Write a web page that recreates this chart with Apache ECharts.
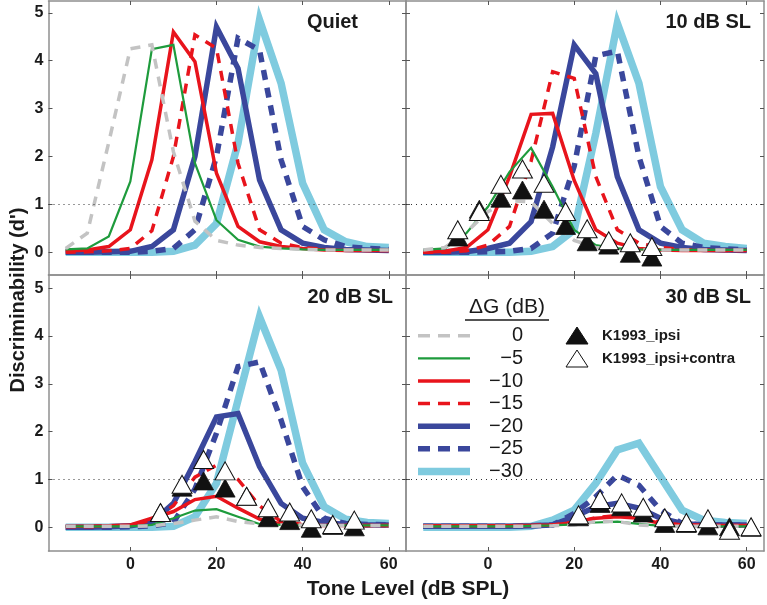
<!DOCTYPE html>
<html>
<head>
<meta charset="utf-8">
<script src="https://cdn.jsdelivr.net/npm/echarts@6.0.0/dist/echarts.min.js"></script>
<style>
html,body{margin:0;padding:0;background:#fff;}
#chart{width:767px;height:605px;}
</style>
</head>
<body>
<div id="chart"></div>
<script>
// ---------------- data ----------------
const levels = [-15,-10,-5,0,5,10,15,20,25,30,35,40,45,50,55,60];
const xTicks = [0,20,40,60];
const yTicks = [0,1,2,3,4,5];
const panelTitles = ['Quiet','10 dB SL','20 dB SL','30 dB SL'];
const gainLabels = ['0','\u22125','\u221210','\u221215','\u221220','\u221225','\u221230'];

// Quiet
const quiet_0  = [0.08,0.40,2.30,4.25,4.33,2.10,0.65,0.25,0.15,0.10,0.08,0.06,0.05,0.05,0.05,0.05];
const quiet_5  = [0.06,0.08,0.33,1.48,4.24,4.33,1.86,0.67,0.26,0.12,0.08,0.06,0.05,0.05,0.05,0.05];
const quiet_10 = [0.02,0.05,0.12,0.47,1.93,4.60,3.98,1.65,0.54,0.22,0.12,0.08,0.05,0.04,0.04,0.04];
const quiet_15 = [0.00,0.01,0.03,0.08,0.45,2.00,4.54,4.26,1.86,0.47,0.19,0.10,0.06,0.05,0.04,0.04];
const quiet_20 = [0.00,0.00,0.01,0.02,0.12,0.47,2.00,4.70,3.84,1.51,0.47,0.19,0.10,0.06,0.05,0.04];
const quiet_25 = [0.00,0.00,0.00,0.00,0.02,0.08,0.47,2.00,4.47,4.22,1.93,0.54,0.26,0.12,0.08,0.06];
const quiet_30 = [0.00,0.00,0.00,0.00,0.00,0.02,0.15,0.60,2.28,4.85,3.53,1.44,0.47,0.22,0.12,0.10];
// 10 dB SL
const sl10_0  = [0.05,0.10,0.42,0.85,1.08,1.05,0.60,0.25,0.10,0.06,0.05,0.05,0.05,0.05,0.05,0.05];
const sl10_5  = [0.05,0.08,0.40,0.95,1.68,2.18,1.37,0.47,0.15,0.08,0.06,0.05,0.05,0.05,0.05,0.05];
const sl10_10 = [0.00,0.02,0.10,0.47,1.58,2.88,2.90,1.50,0.47,0.19,0.08,0.05,0.04,0.04,0.04,0.04];
const sl10_15 = [0.00,0.00,0.03,0.15,0.54,1.90,3.77,3.63,1.58,0.47,0.19,0.10,0.06,0.05,0.04,0.04];
const sl10_20 = [0.00,0.00,0.01,0.08,0.19,0.64,2.20,4.33,3.73,1.58,0.47,0.19,0.10,0.06,0.05,0.04];
const sl10_25 = [0.00,0.00,0.00,0.01,0.02,0.08,0.40,1.80,4.10,4.20,2.00,0.54,0.19,0.10,0.07,0.05];
const sl10_30 = [0.00,0.00,0.00,0.00,0.00,0.02,0.12,0.47,2.48,4.78,3.53,1.37,0.47,0.19,0.12,0.08];
// 20 dB SL
const sl20_0  = [0.02,0.02,0.02,0.02,0.03,0.08,0.15,0.22,0.12,0.07,0.05,0.05,0.04,0.04,0.04,0.04];
const sl20_5  = [0.02,0.02,0.02,0.02,0.05,0.19,0.35,0.38,0.22,0.07,0.05,0.04,0.04,0.04,0.04,0.04];
const sl20_10 = [0.02,0.02,0.03,0.05,0.19,0.33,0.58,0.65,0.40,0.17,0.07,0.05,0.04,0.04,0.04,0.04];
const sl20_15 = [0.01,0.01,0.02,0.04,0.15,0.45,1.05,1.30,1.00,0.45,0.12,0.06,0.05,0.04,0.04,0.04];
const sl20_20 = [0.00,0.00,0.01,0.03,0.10,0.50,1.37,2.31,2.38,1.27,0.50,0.19,0.10,0.06,0.05,0.05];
const sl20_25 = [0.00,0.00,0.00,0.01,0.03,0.10,0.80,1.97,3.36,3.46,2.24,0.85,0.19,0.08,0.06,0.05];
const sl20_30 = [0.00,0.00,0.00,0.00,0.00,0.02,0.22,0.92,2.66,4.40,3.29,1.34,0.43,0.17,0.10,0.08];
// 30 dB SL
const sl30_0  = [0.02,0.02,0.02,0.02,0.02,0.02,0.03,0.05,0.12,0.12,0.05,0.02,0.02,0.02,0.02,0.02];
const sl30_5  = [0.02,0.02,0.02,0.02,0.02,0.03,0.04,0.06,0.10,0.12,0.07,0.03,0.02,0.02,0.02,0.02];
const sl30_10 = [0.03,0.03,0.03,0.03,0.03,0.04,0.05,0.10,0.19,0.22,0.19,0.08,0.05,0.04,0.04,0.04];
const sl30_15 = [0.03,0.03,0.03,0.03,0.03,0.04,0.05,0.10,0.20,0.25,0.20,0.10,0.05,0.04,0.04,0.04];
const sl30_20 = [0.02,0.02,0.02,0.02,0.02,0.03,0.05,0.22,0.43,0.50,0.40,0.19,0.08,0.05,0.05,0.05];
const sl30_25 = [0.02,0.02,0.02,0.02,0.02,0.03,0.05,0.29,0.64,1.09,0.88,0.36,0.08,0.05,0.05,0.05];
const sl30_30 = [0.00,0.00,0.00,0.00,0.00,0.02,0.15,0.36,0.92,1.62,1.76,1.06,0.36,0.15,0.10,0.08];

// K1993 data (tone level, d')
const k10_x      = [-7,-2,3,8,13,18,23,28,33,38];
const k10_ipsi   = [0.32,0.90,1.13,1.30,0.90,0.56,0.22,0.15,-0.02,-0.10];
const k10_contra = [0.47,0.85,1.42,1.74,1.44,0.85,0.49,0.24,0.20,0.12];
const k20_x      = [7,12,17,22,27,32,37,42,47,52];
const k20_ipsi   = [0.31,0.84,0.97,0.82,0.65,0.20,0.14,-0.02,0.04,0.01];
const k20_contra = [0.31,0.90,1.42,1.18,0.65,0.41,0.32,0.18,0.06,0.15];
const k30_x      = [21,26,31,36,41,46,51,56,61];
const k30_ipsi   = [0.22,0.50,0.43,0.30,0.08,0.08,0.03,0.01,0.00];
const k30_contra = [0.26,0.58,0.51,0.42,0.20,0.10,0.18,-0.06,0.01];

const panelCurves = [
  [quiet_0,quiet_5,quiet_10,quiet_15,quiet_20,quiet_25,quiet_30],
  [sl10_0,sl10_5,sl10_10,sl10_15,sl10_20,sl10_25,sl10_30],
  [sl20_0,sl20_5,sl20_10,sl20_15,sl20_20,sl20_25,sl20_30],
  [sl30_0,sl30_5,sl30_10,sl30_15,sl30_20,sl30_25,sl30_30]
];
const panelK = [null,[k10_x,k10_ipsi,k10_contra],[k20_x,k20_ipsi,k20_contra],[k30_x,k30_ipsi,k30_contra]];

// ---------------- styles ----------------
const curveStyles = [
  {color:'#c3c3c3', width:3.5, type:[10,8]},
  {color:'#1e9b3c', width:2.2, type:'solid'},
  {color:'#e8141c', width:3.5, type:'solid'},
  {color:'#e8141c', width:3.5, type:[10,8]},
  {color:'#3a479c', width:5.5, type:'solid'},
  {color:'#3a479c', width:5.5, type:[10,8]},
  {color:'#7fcbdf', width:7.5, type:'solid'}
];
const F = "'Liberation Sans', Arial, Helvetica, sans-serif";
const frameColor = '#8f8f8f';

const grids = [
  {left:48.5, top:1, width:357.5, height:274},
  {left:406, top:1, width:358, height:274},
  {left:48.5, top:275, width:357.5, height:276},
  {left:406, top:275, width:358, height:276}
];
const yRanges = [[-0.474,5.246],[-0.474,5.246],[-0.496,5.278],[-0.496,5.278]];

const xAxes = [], yAxes = [], series = [];
grids.forEach((g,i)=>{
  const common = {
    type:'value', gridIndex:i, min:-19, max:64,
    axisLine:{show:true, onZero:false, lineStyle:{color:frameColor, width:1.5}},
    splitLine:{show:false},
    axisTick:{show:true, inside:true, length:4, customValues:xTicks, lineStyle:{color:'#555', width:1}}
  };
  xAxes.push(Object.assign({}, common, {position:'bottom',
    axisLabel:{show:i>=2, customValues:xTicks, margin:6, color:'#1a1a1a', fontFamily:F, fontWeight:'bold', fontSize:16}}));
  xAxes.push(Object.assign({}, common, {position:'top', axisLabel:{show:false}}));
  const ycommon = {
    type:'value', gridIndex:i, min:yRanges[i][0], max:yRanges[i][1],
    axisLine:{show:true, onZero:false, lineStyle:{color:frameColor, width:1.5}},
    splitLine:{show:false},
    axisTick:{show:true, inside:true, length:4, customValues:yTicks, lineStyle:{color:'#555', width:1}}
  };
  yAxes.push(Object.assign({}, ycommon, {position:'left',
    axisLabel:{show:i%2===0, customValues:yTicks, margin:5, color:'#1a1a1a', fontFamily:F, fontWeight:'bold', fontSize:16}}));
  yAxes.push(Object.assign({}, ycommon, {position:'right', axisLabel:{show:false}}));

  const curves = panelCurves[i];
  for (let k = 6; k >= 0; k--) {
    const st = curveStyles[k];
    const s = {
      type:'line', name:gainLabels[k], xAxisIndex:2*i, yAxisIndex:2*i,
      data: levels.map((x,j)=>[x, curves[k][j]]),
      symbol:'none', showSymbol:false, smooth:false, silent:true,
      lineStyle:{color:st.color, width:st.width, type:st.type, cap:'butt', join:'miter'},
      z:2
    };
    if (k === 6) {
      s.markLine = {silent:true, symbol:['none','none'], label:{show:false},
        lineStyle:{color:'#333', width:1, type:[1,4]}, data:[{yAxis:1}], animation:false};
    }
    series.push(s);
  }
  const K = panelK[i];
  if (K) {
    series.push({type:'scatter', name:'K1993_ipsi', xAxisIndex:2*i, yAxisIndex:2*i,
      data:K[0].map((x,j)=>[x,K[1][j]]), symbol:'triangle', symbolSize:[20,18],
      itemStyle:{color:'#111', borderColor:'#111', borderWidth:0.8, opacity:1}, z:5, silent:true});
    series.push({type:'scatter', name:'K1993_ipsi+contra', xAxisIndex:2*i, yAxisIndex:2*i,
      data:K[0].map((x,j)=>[x,K[2][j]]), symbol:'triangle', symbolSize:[20,18],
      itemStyle:{color:'#fff', borderColor:'#111', borderWidth:1, opacity:1}, z:6, silent:true});
  }
});

// ---------------- graphic texts & legend ----------------
const graphic = [];
const titlePos = [[358,22],[751,22],[393,297],[751,297]];
panelTitles.forEach((t,i)=>{
  graphic.push({type:'text', x:titlePos[i][0], y:titlePos[i][1], z:20,
    style:{text:t, fill:'#1a1a1a', font:"bold 20px "+F, textAlign:'right', textVerticalAlign:'middle'}});
});
graphic.push({type:'text', x:408, y:589, z:20,
  style:{text:'Tone Level (dB SPL)', fill:'#1a1a1a', font:"bold 21px "+F, textAlign:'center', textVerticalAlign:'middle'}});
graphic.push({type:'text', x:18, y:300, rotation:Math.PI/2, z:20,
  style:{text:"Discriminability (d')", fill:'#1a1a1a', font:"bold 20px "+F, textAlign:'center', textVerticalAlign:'middle'}});

// legend
graphic.push({type:'text', x:507, y:307, z:20,
  style:{text:'\u0394G (dB)', fill:'#1a1a1a', font:"21px "+F, textAlign:'center', textVerticalAlign:'middle'}});
graphic.push({type:'line', z:20, shape:{x1:465, y1:320, x2:549, y2:320}, style:{stroke:'#1a1a1a', lineWidth:1.5}});
const rowY = [335.7,358.3,381,403.6,426.2,448.8,471.4];
curveStyles.forEach((st,k)=>{
  graphic.push({type:'line', z:20, shape:{x1:418, y1:rowY[k], x2:470, y2:rowY[k]},
    style:{stroke:st.color, lineWidth:st.width, lineDash: st.type==='solid'?null:[12,8], lineCap:'butt'}});
  graphic.push({type:'text', x:523, y:rowY[k], z:20,
    style:{text:gainLabels[k], fill:'#1a1a1a', font:"20px "+F, textAlign:'right', textVerticalAlign:'middle'}});
});
graphic.push({type:'polygon', z:20, shape:{points:[[566,344],[588,344],[577,327]]}, style:{fill:'#111', stroke:'#111', lineWidth:1}});
graphic.push({type:'polygon', z:20, shape:{points:[[566,367],[588,367],[577,350]]}, style:{fill:'#fff', stroke:'#111', lineWidth:1}});
graphic.push({type:'text', x:602, y:336, z:20,
  style:{text:'K1993_ipsi', fill:'#1a1a1a', font:"bold 15px "+F, textAlign:'left', textVerticalAlign:'middle'}});
graphic.push({type:'text', x:602, y:359, z:20,
  style:{text:'K1993_ipsi+contra', fill:'#1a1a1a', font:"bold 15px "+F, textAlign:'left', textVerticalAlign:'middle'}});

const chart = echarts.init(document.getElementById('chart'), null, {renderer:'canvas'});
chart.setOption({
  animation:false,
  backgroundColor:'#fff',
  grid:grids,
  xAxis:xAxes,
  yAxis:yAxes,
  series:series,
  graphic:graphic
});
</script>
</body>
</html>
